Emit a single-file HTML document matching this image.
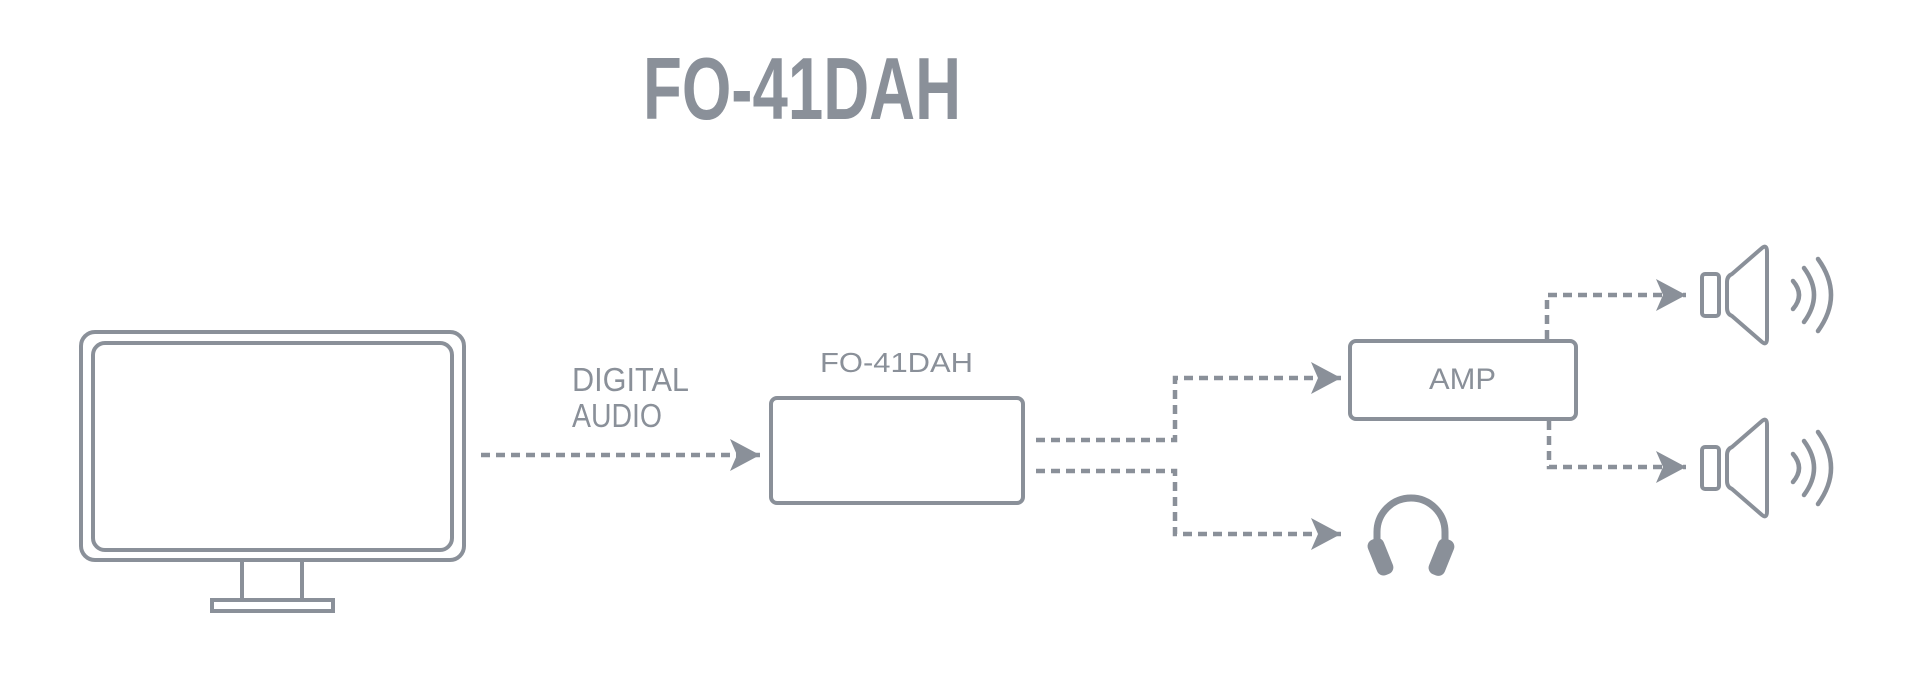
<!DOCTYPE html>
<html><head><meta charset="utf-8"><style>
html,body{margin:0;padding:0;background:#fff;}
svg{display:block;}
text{font-family:"Liberation Sans",sans-serif;fill:#8a9099;}
</style></head><body>
<svg width="1920" height="680" viewBox="0 0 1920 680" xmlns="http://www.w3.org/2000/svg">
<defs>
<marker id="ah" viewBox="0 0 30 32" refX="30" refY="16" markerWidth="30" markerHeight="32" markerUnits="userSpaceOnUse" orient="auto">
<path d="M0 0 L30 16 L0 32 L7 16 Z" fill="#8a9099"/>
</marker>
</defs>
<text x="643" y="119" font-size="88" font-weight="bold" textLength="318" lengthAdjust="spacingAndGlyphs" style="font-family:'Liberation Sans Narrow','Liberation Sans',sans-serif">FO-41DAH</text>

<g fill="none" stroke="#8a9099" stroke-width="4">
<rect x="81" y="332" width="383" height="228" rx="14"/>
<rect x="93" y="343" width="359" height="207" rx="12"/>
<line x1="242" y1="560" x2="242" y2="600"/>
<line x1="302" y1="560" x2="302" y2="600"/>
<rect x="212" y="600" width="121" height="11"/>
<rect x="771" y="398" width="252" height="105" rx="6"/>
<rect x="1350" y="341" width="226" height="78" rx="6"/>
</g>

<text x="572" y="391" font-size="33" textLength="117" lengthAdjust="spacingAndGlyphs">DIGITAL</text>
<text x="572" y="427" font-size="33" textLength="90" lengthAdjust="spacingAndGlyphs">AUDIO</text>
<text x="820" y="372" font-size="28" textLength="153" lengthAdjust="spacingAndGlyphs">FO-41DAH</text>
<text x="1429" y="389" font-size="30" textLength="67" lengthAdjust="spacingAndGlyphs">AMP</text>

<g fill="none" stroke="#8a9099" stroke-width="4.5" stroke-dasharray="9 6">
<path d="M481 455 H760" marker-end="url(#ah)"/>
<path d="M1036 440 H1175 V378 H1341" marker-end="url(#ah)"/>
<path d="M1036 471 H1175 V534 H1341" marker-end="url(#ah)"/>
<path d="M1547 339 V295 H1686" marker-end="url(#ah)"/>
<path d="M1549 421 V467 H1686" marker-end="url(#ah)"/>
</g>

<g id="spk" fill="none" stroke="#8a9099" stroke-width="4" stroke-linecap="round" stroke-linejoin="round">
<rect x="1702" y="274" width="17" height="42" rx="3"/>
<path d="M1732 274 L1762 248 Q1767 244 1767 252 L1767 338 Q1767 346 1762 342 L1732 316 Q1727 314 1727 308 L1727 282 Q1727 276 1732 274 Z"/>
<path d="M1793 281 Q1805 295 1793 309" stroke-width="4.5"/>
<path d="M1804 268 Q1824 295 1804 322" stroke-width="4.5"/>
<path d="M1818 259 Q1844 295 1818 331" stroke-width="4.5"/>
</g>
<use href="#spk" y="173"/>

<g fill="#8a9099">
<path d="M1377 552 V532 A34 34 0 0 1 1445 532 V552" fill="none" stroke="#8a9099" stroke-width="7"/>
<rect x="1372" y="538" width="17" height="38" rx="7" transform="rotate(-22 1380 557)"/>
<rect x="1433" y="538" width="17" height="38" rx="7" transform="rotate(22 1441 557)"/>
</g>
</svg>
</body></html>
